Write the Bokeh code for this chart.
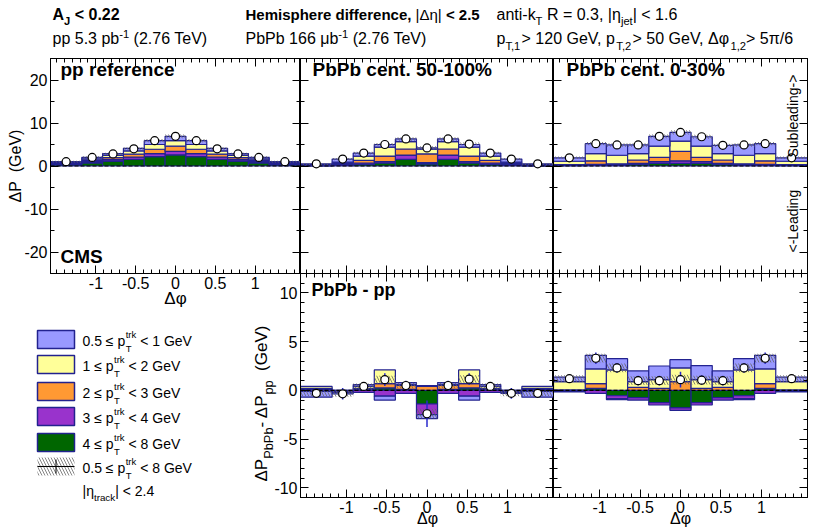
import math
import re
import numpy as np
from bokeh.plotting import figure
from bokeh.models import Range1d, LinearAxis, FixedTicker, Label, Spacer, CustomJSTickFormatter
from bokeh.layouts import row, column
from bokeh.embed import file_html
from bokeh.resources import INLINE

PI = math.pi
bin_edges = [-PI/2, -9*PI/24, -7*PI/24, -5*PI/24, -3*PI/24, -PI/24,
             PI/24, 3*PI/24, 5*PI/24, 7*PI/24, 9*PI/24, PI/2]
XMIN, XMAX = -PI/2, PI/2

x_major = [-1, -0.5, 0, 0.5, 1]
x_minor = [-1.5, -1.4, -1.3, -1.2, -1.1, -1.0, -0.9, -0.8, -0.7, -0.6, -0.5, -0.4, -0.3, -0.2, -0.1, 0.0,
           0.1, 0.2, 0.3, 0.4, 0.5, 0.6, 0.7, 0.8, 0.9, 1.0, 1.1, 1.2, 1.3, 1.4, 1.5]
top_y_major = [-20, -10, 0, 10, 20]
top_y_minor = [-25, -20, -15, -10, -5, 0, 5, 10, 15, 20, 25]
bot_y_major = [-10, -5, 0, 5, 10]
bot_y_minor = [-11, -10, -9, -8, -7, -6, -5, -4, -3, -2, -1, 0, 1, 2, 3, 4, 5, 6, 7, 8, 9, 10, 11, 12]

# stack order: 4-8 (green), 3-4 (purple), 2-3 (orange), 1-2 (yellow), 0.5-1 (blue)
# ---- pp reference
pp_g = [0.3, 0.75, 1.15, 1.55, 2.2, 2.6, 2.2, 1.55, 1.15, 0.75, 0.3]
pp_p = [0.1, 0.25, 0.35, 0.5, 0.7, 0.8, 0.7, 0.5, 0.35, 0.25, 0.1]
pp_o = [0.15, 0.3, 0.45, 0.7, 1.0, 1.2, 1.0, 0.7, 0.45, 0.3, 0.15]
pp_y = [0.2, 0.35, 0.5, 0.75, 1.1, 1.3, 1.1, 0.75, 0.5, 0.35, 0.2]
pp_b = [0.25, 0.35, 0.45, 0.6, 0.9, 1.0, 0.9, 0.6, 0.45, 0.35, 0.25]
pp_tot = [1.0, 2.0, 2.8, 4.0, 5.9, 6.9, 5.9, 4.0, 2.8, 2.0, 1.0]
pp_stat = [0.1, 0.1, 0.1, 0.15, 0.15, 0.2, 0.15, 0.15, 0.1, 0.1, 0.1]
pp_sys = [0.2, 0.25, 0.3, 0.35, 0.4, 0.45, 0.4, 0.35, 0.3, 0.25, 0.2]
# ---- PbPb 50-100%
c1_g = [0.05, 0.2, 0.4, 0.7, 1.55, 0.5, 1.55, 0.7, 0.4, 0.2, 0.05]
c1_p = [0.05, 0.1, 0.3, 0.3, 1.0, 0.3, 1.0, 0.3, 0.3, 0.1, 0.05]
c1_o = [0.1, 0.3, 0.6, 1.3, 1.4, 2.0, 1.4, 1.3, 0.6, 0.3, 0.1]
c1_y = [0.1, 0.3, 1.0, 2.1, 1.7, 1.1, 1.7, 2.1, 1.0, 0.3, 0.1]
c1_b = [0.2, 0.7, 0.7, 0.6, 0.65, 0.3, 0.65, 0.6, 0.7, 0.7, 0.2]
c1_tot = [0.5, 1.6, 3.0, 5.0, 6.3, 4.2, 6.3, 5.1, 3.0, 1.6, 0.5]
c1_stat = [0.15, 0.2, 0.25, 0.3, 0.35, 0.6, 0.35, 0.3, 0.25, 0.2, 0.15]
c1_sys = [0.2, 0.25, 0.3, 0.35, 0.4, 0.4, 0.4, 0.35, 0.3, 0.25, 0.2]
# ---- PbPb 0-30%
c2_g = [0.1, 0.2, 0.2, 0.4, 0.6, 0.6, 0.6, 0.4, 0.2, 0.2, 0.1]
c2_p = [0.05, 0.2, 0.1, 0.2, 0.4, 0.6, 0.4, 0.2, 0.1, 0.2, 0.05]
c2_o = [0.15, 0.8, 0.2, 0.8, 1.0, 2.2, 1.0, 0.8, 0.2, 0.8, 0.15]
c2_y = [0.8, 1.7, 2.0, 1.5, 2.6, 2.4, 2.6, 1.5, 2.0, 1.7, 0.8]
c2_b = [0.8, 2.3, 2.4, 2.0, 2.3, 2.0, 2.2, 1.9, 2.4, 2.3, 0.8]
c2_tot = [1.9, 5.2, 4.9, 4.9, 6.9, 7.8, 6.8, 4.8, 4.9, 5.2, 1.9]
c2_stat = [0.15, 0.25, 0.25, 0.25, 0.3, 0.35, 0.3, 0.25, 0.25, 0.25, 0.15]
c2_sys = [0.3, 0.4, 0.4, 0.4, 0.45, 0.5, 0.45, 0.4, 0.4, 0.4, 0.3]
# ---- PbPb 50-100% - pp
d1_g = [0.1, -0.1, 0.1, 0.25, 0.1, -1.4, 0.1, 0.25, 0.1, -0.1, 0.1]
d1_p = [-0.1, -0.05, -0.2, -0.6, -0.3, -1.1, -0.3, -0.6, -0.2, -0.05, -0.1]
d1_o = [0.1, -0.05, 0.1, 0.45, 0.4, 0.4, 0.4, 0.45, 0.1, -0.05, 0.1]
d1_y = [0.2, 0.0, 0.2, 1.4, 0.1, 0.1, 0.1, 1.4, 0.2, 0.0, 0.2]
d1_b = [-0.6, -0.15, 0.2, -0.4, 0.2, -0.4, 0.2, -0.4, 0.2, -0.1, -0.6]
d1_tot = [-0.3, -0.35, 0.4, 1.1, 0.5, -2.4, 0.5, 1.15, 0.4, -0.3, -0.3]
d1_stat = [0.3, 0.6, 0.4, 0.65, 0.5, 1.35, 0.5, 0.6, 0.4, 0.55, 0.3]
d1_sys = [0.3, 0.3, 0.3, 0.4, 0.3, 0.5, 0.3, 0.4, 0.3, 0.3, 0.3]
# ---- PbPb 0-30% - pp
d2_g = [-0.1, 0.2, -0.55, -0.75, -1.25, -1.8, -1.25, -0.75, -0.55, 0.2, -0.1]
d2_p = [-0.05, -0.3, -0.3, -0.25, -0.25, -0.25, -0.25, -0.25, -0.3, -0.3, -0.05]
d2_o = [0.05, 0.5, -0.1, 0.3, 0.2, 0.9, 0.2, 0.3, -0.1, 0.5, 0.05]
d2_y = [0.85, 1.5, 2.1, 0.6, 0.9, 1.4, 0.9, 0.6, 2.1, 1.5, 0.85]
d2_b = [0.45, 1.4, 1.15, 1.1, 1.4, 0.85, 1.45, 1.1, 1.15, 1.4, 0.45]
d2_tot = [1.2, 3.3, 2.3, 1.0, 1.0, 1.1, 1.05, 1.0, 2.3, 3.3, 1.2]
d2_stat = [0.3, 0.6, 0.5, 0.5, 0.5, 0.8, 0.5, 0.5, 0.5, 0.6, 0.3]
d2_sys = [0.35, 0.45, 0.45, 0.45, 0.45, 0.5, 0.45, 0.45, 0.45, 0.45, 0.35]

comp_colors = ["#006600", "#9933cc", "#ff9933", "#ffff99", "#9999ff"]
OUTLINE = "#22228f"
ERRCOL = "#2a2acc"
FONT = "Liberation Sans"

fmt = CustomJSTickFormatter(code="return (Math.round(tick*100)/100).toString();")
nofmt = CustomJSTickFormatter(code="return '';")


def add_axis(p, loc, major, minor, labels):
    ax = LinearAxis(ticker=FixedTicker(ticks=major, minor_ticks=minor))
    ax.major_tick_in = 8
    ax.major_tick_out = 0
    ax.minor_tick_in = 4
    ax.minor_tick_out = 0
    ax.axis_line_color = "black"
    ax.major_tick_line_color = "black"
    ax.minor_tick_line_color = "black"
    if labels:
        ax.formatter = fmt
        ax.major_label_text_font = FONT
        ax.major_label_text_font_size = "16px"
        ax.major_label_text_color = "black"
        ax.major_label_standoff = 3
    else:
        ax.formatter = nofmt
        ax.major_label_text_font_size = "0px"
        ax.major_label_text_color = None
        ax.major_label_standoff = 0
    p.add_layout(ax, loc)


def make_panel(w, h, yr, ymaj, ymin, borders, show_x, show_y):
    l, r, t, b = borders
    p = figure(width=w, height=h, x_range=Range1d(XMIN, XMAX), y_range=Range1d(*yr),
               x_axis_type=None, y_axis_type=None, toolbar_location=None,
               output_backend="svg", min_border_left=l, min_border_right=r,
               min_border_top=t, min_border_bottom=b,
               background_fill_color="white", border_fill_alpha=0,
               outline_line_color="black", outline_line_width=1)
    add_axis(p, "below", x_major, x_minor, show_x)
    add_axis(p, "above", x_major, x_minor, False)
    add_axis(p, "left", ymaj, ymin, show_y)
    add_axis(p, "right", ymaj, ymin, False)
    return p


def draw(p, comps, tot, stat, sys):
    left = bin_edges[:-1]
    right = bin_edges[1:]
    centers = [(a + b) / 2 for a, b in zip(left, right)]
    n = len(left)
    pos = np.zeros(n)
    neg = np.zeros(n)
    for vals, col in zip(comps, comp_colors):
        v = np.asarray(vals, float)
        base = np.where(v >= 0, pos, neg)
        topv = base + v
        pos = np.where(v >= 0, topv, pos)
        neg = np.where(v < 0, topv, neg)
        p.quad(left=left, right=right, bottom=base, top=topv, fill_color=col,
               line_color=OUTLINE, line_width=1.2)
    t = np.asarray(tot, float)
    s = np.asarray(sys, float)
    e = np.asarray(stat, float)
    p.quad(left=left, right=right, bottom=t - s, top=t + s, fill_alpha=0, line_alpha=0,
           hatch_pattern="left_diagonal_line", hatch_color="#666666", hatch_scale=6,
           hatch_weight=0.8)
    p.segment(x0=[XMIN], y0=[0], x1=[XMAX], y1=[0], line_color="black",
              line_dash="4 2", line_width=1.2)
    p.segment(x0=centers, y0=t - e, x1=centers, y1=t + e, line_color=ERRCOL, line_width=1.5)
    p.scatter(x=centers, y=t, size=8, marker="circle", fill_color="white",
              line_color="black", line_width=1.2)


# ----- panels (all panels of a row share the same height and vertical borders)
TOPB = 58
f1 = make_panel(300, TOPB + 260, (-25, 25), top_y_major, top_y_minor, (50, 0, TOPB, 45), True, True)
f2 = make_panel(253, TOPB + 260, (-25, 25), top_y_major, top_y_minor, (0, 0, TOPB, 45), False, False)
f3 = make_panel(269, TOPB + 260, (-25, 25), top_y_major, top_y_minor, (0, 15, TOPB, 45), False, False)
f4 = make_panel(308, 258, (-11, 12), bot_y_major, bot_y_minor, (55, 0, 0, 34), True, True)
f5 = make_panel(269, 258, (-11, 12), bot_y_major, bot_y_minor, (0, 15, 0, 34), True, False)

draw(f1, [pp_g, pp_p, pp_o, pp_y, pp_b], pp_tot, pp_stat, pp_sys)
draw(f2, [c1_g, c1_p, c1_o, c1_y, c1_b], c1_tot, c1_stat, c1_sys)
draw(f3, [c2_g, c2_p, c2_o, c2_y, c2_b], c2_tot, c2_stat, c2_sys)
draw(f4, [d1_g, d1_p, d1_o, d1_y, d1_b], d1_tot, d1_stat, d1_sys)
draw(f5, [d2_g, d2_p, d2_o, d2_y, d2_b], d2_tot, d2_stat, d2_sys)

# ----- overlay for texts and legend (pixel coordinates, y downwards)
COLH = TOPB + 260 - 45 + 258
ov = figure(width=822, height=COLH, x_range=Range1d(0, 822), y_range=Range1d(COLH, 0),
            x_axis_type=None, y_axis_type=None, toolbar_location=None, output_backend="svg",
            min_border=0, outline_line_color=None, background_fill_alpha=0, border_fill_alpha=0)
ov.margin = (-COLH, 0, 0, 0)

RW = {' ': 278, '%': 889, '(': 333, ')': 333, ',': 278, '-': 333, '.': 278, '/': 278,
      '<': 584, '=': 584, '>': 584, '|': 260, 'Δ': 668, 'η': 556, 'φ': 649, 'π': 684,
      'μ': 577, '≤': 584,
      'A': 667, 'B': 667, 'C': 722, 'D': 722, 'E': 667, 'F': 611, 'G': 778, 'H': 722, 'I': 278,
      'J': 500, 'K': 667, 'L': 556, 'M': 833, 'N': 722, 'O': 778, 'P': 667, 'Q': 778, 'R': 722,
      'S': 667, 'T': 611, 'U': 722, 'V': 667, 'W': 944, 'X': 667, 'Y': 667, 'Z': 611,
      'a': 556, 'b': 556, 'c': 500, 'd': 556, 'e': 556, 'f': 278, 'g': 556, 'h': 556, 'i': 222,
      'j': 222, 'k': 500, 'l': 222, 'm': 833, 'n': 556, 'o': 556, 'p': 556, 'q': 556, 'r': 333,
      's': 500, 't': 278, 'u': 556, 'v': 500, 'w': 722, 'x': 500, 'y': 500, 'z': 500}
BW = dict(RW)
BW.update({'|': 280, 'A': 722, 'B': 722, 'J': 556, 'K': 722, 'L': 611, 'a': 556, 'b': 611,
           'c': 556, 'd': 611, 'e': 556, 'f': 333, 'g': 611, 'h': 611, 'i': 278, 'j': 278,
           'k': 556, 'l': 278, 'm': 889, 'n': 611, 'o': 611, 'p': 611, 'q': 611, 'r': 389,
           's': 556, 't': 333, 'u': 611, 'v': 556, 'w': 778, 'x': 556, 'y': 556})

SHIFT = 0.42   # measured: labels land ~0.42 em below the requested baseline


def twidth(s, size, bold):
    tab = BW if bold else RW
    return sum(tab.get(ch, 556) for ch in s) / 1000.0 * size


def keep_spaces(t):
    # SVG collapses leading/trailing and repeated spaces: keep them as no-break spaces
    lead = len(t) - len(t.lstrip(' '))
    trail = len(t) - len(t.rstrip(' '))
    core = t.strip(' ')
    core = re.sub(r' {2,}', lambda m: '\u00a0' * len(m.group()), core)
    return '\u00a0' * lead + core + '\u00a0' * trail


def rich(x, y, parts, size, angle=0, bold=False, align="left",
         ss=0.7, dn=0.3, up=0.42):
    a = math.radians(angle)
    adx, ady = math.cos(a), -math.sin(a)
    ux, uy = -math.sin(a), -math.cos(a)
    items = []
    pos = 0.0
    for part in parts:
        if isinstance(part, str):
            txt, kind = part, "n"
        else:
            txt, kind = part
        fs = size * ss
        if kind in ("n", "b", "r"):
            b = bold if kind == "n" else (kind == "b")
            segs = [(txt, size, b, 0.0)]
            adv = twidth(txt, size, b)
        elif kind == "sub":
            segs = [(txt, fs, bold, -dn * size)]
            adv = twidth(txt, fs, bold)
        elif kind == "sup":
            segs = [(txt, fs, bold, up * size)]
            adv = twidth(txt, fs, bold)
        else:  # stacked sub + sup
            sb, sp = txt
            segs = [(sb, fs, bold, -dn * size), (sp, fs, bold, up * size)]
            adv = max(twidth(sb, fs, bold), twidth(sp, fs, bold))
        items.append((pos, segs))
        pos += adv
    start = -pos / 2 if align == "center" else 0.0
    for p0, segs in items:
        for t, fsz, b, off in segs:
            d = start + p0
            o = off + SHIFT * fsz
            ov.add_layout(Label(x=x + d * adx + o * ux, y=y + d * ady + o * uy,
                                text=keep_spaces(t),
                                text_font=FONT, text_font_size=f"{fsz:.1f}px",
                                text_font_style="bold" if b else "normal",
                                text_color="black", angle=angle, angle_units="deg",
                                text_baseline="alphabetic", text_align="left"))


# header
rich(52, 20.5, ["A", ("J", "sub"), " < 0.22"], 16, bold=True)
rich(52, 44.5, ["pp 5.3 pb", ("-1", "sup"), " (2.76 TeV)"], 16)
rich(245, 20.5, ["Hemisphere difference, ", ("|Δη|", "r"), " < 2.5"], 15, bold=True)
rich(245, 44.5, ["PbPb 166 μb", ("-1", "sup"), " (2.76 TeV)"], 16)
rich(496, 20.5, ["anti-k", ("T", "sub"), " R = 0.3, |η", ("jet", "sub"), "| < 1.6"], 16)
rich(496, 44.5, ["p", ("T,1", "sub"), "> 120 GeV, p", ("T,2", "sub"), "> 50 GeV, Δφ",
                 ("1,2", "sub"), "> 5π/6"], 16, dn=0.35)

# panel labels
rich(60, 77, ["pp reference"], 19, bold=True)
rich(312, 77, ["PbPb cent. 50-100%"], 19, bold=True)
rich(566, 77, ["PbPb cent. 0-30%"], 19, bold=True)
rich(60, 264, ["CMS"], 19, bold=True)
rich(311, 297, ["PbPb - pp"], 18, bold=True)
rich(798, 157, ["Subleading->"], 14, angle=90)
rich(798, 252, ["<-Leading"], 14, angle=90)

# axis titles
rich(22, 202, ["ΔP  (GeV)"], 16, angle=90)
rich(268, 481, ["ΔP", ("PbPb", "sub"), "- ΔP", ("pp", "sub"), "  (GeV)"], 17, angle=90, ss=0.75)
rich(175, 305, ["Δφ"], 17, align="center")
rich(427, 525, ["Δφ"], 16, align="center")
rich(680, 525, ["Δφ"], 16, align="center")

# legend
leg_colors = comp_colors[::-1]
leg_lo = ["0.5", "1", "2", "3", "4"]
leg_hi = ["1", "2", "3", "4", "8"]
box_tops = [330, 355, 382, 407, 433]
BOXH = 18
BX0, BX1, TX = 37, 74, 82
ov.quad(left=[BX0] * 5, right=[BX1] * 5, top=box_tops, bottom=[t + BOXH for t in box_tops],
        fill_color=leg_colors, line_color=OUTLINE, line_width=1.5)
for lo, hi, t in zip(leg_lo, leg_hi, box_tops):
    rich(TX, t + 16, [lo + " ≤ p", (("T", "trk"), "ss"), " < " + hi + " GeV"], 14,
         ss=0.68, dn=0.42, up=0.55)
ht = 457
ov.quad(left=[BX0], right=[BX1], top=[ht], bottom=[ht + BOXH], fill_alpha=0, line_alpha=0,
        hatch_pattern="left_diagonal_line", hatch_color="#666666", hatch_scale=6,
        hatch_weight=0.8)
XM = (BX0 + BX1) / 2
ov.segment(x0=[BX0, XM], y0=[ht + BOXH / 2, ht + 2], x1=[BX1, XM], y1=[ht + BOXH / 2, ht + BOXH - 2],
           line_color="black", line_width=1)
rich(TX, ht + 16, ["0.5 ≤ p", (("T", "trk"), "ss"), " < 8 GeV"], 14, ss=0.68, dn=0.42, up=0.55)
rich(TX, 496, ["|η", ("track", "sub"), "| < 2.4"], 14, dn=0.35)

r1 = row(f1, f2, f3)
r2 = row(Spacer(width=245, height=258), f4, f5)
r2.margin = (-45, 0, 0, 0)
layout = column(r1, r2, ov)

open("out.html", "w").write(file_html(layout, INLINE))
